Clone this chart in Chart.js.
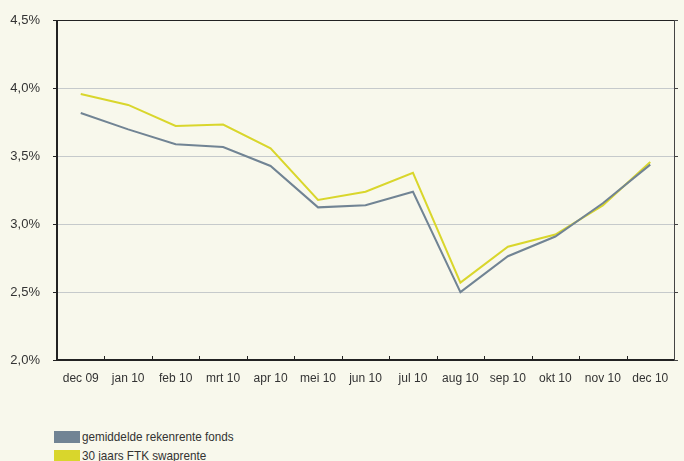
<!DOCTYPE html>
<html>
<head>
<meta charset="utf-8">
<script src="https://cdn.jsdelivr.net/npm/chart.js@4.4.0/dist/chart.umd.min.js"></script>
<style>
  html, body { margin: 0; padding: 0; background: #f8f8ec; }
  #wrap { position: relative; width: 684px; height: 400px; }
  #legend { position: absolute; left: 54px; top: 427px; font-family: "Liberation Sans Narrow", "Liberation Sans", sans-serif; font-size: 13px; color: #333; }
  #legend div { height: 19px; line-height: 15px; display: flex; align-items: center; }
  #legend span.box { display: inline-block; width: 26px; height: 12px; margin-right: 2px; }
  #legend span.txt { display: inline-block; transform: scaleX(0.9); transform-origin: left center; }
</style>
</head>
<body>
<div id="wrap"><canvas id="chart"></canvas></div>
<div id="legend"></div>
<script>
const months = ['dec 09', 'jan 10', 'feb 10', 'mrt 10', 'apr 10', 'mei 10', 'jun 10',
  'jul 10', 'aug 10', 'sep 10', 'okt 10', 'nov 10', 'dec 10'];
const rekenrente = [3.82, 3.70, 3.59, 3.57, 3.43, 3.125, 3.14, 3.24, 2.50, 2.765, 2.91, 3.155, 3.44];
const swaprente = [3.96, 3.88, 3.725, 3.735, 3.56, 3.18, 3.24, 3.38, 2.57, 2.835, 2.925, 3.14, 3.46];
const seriesNames = ['gemiddelde rekenrente fonds', '30 jaars FTK swaprente'];
const seriesColors = ['#718494', '#d9d62c'];

const fontName = '"Liberation Sans Narrow", "Liberation Sans", sans-serif';

// small inward ticks on the category axis, between the months
const innerTicks = {
  id: 'innerTicks',
  afterDraw(chart) {
    const x = chart.scales.x;
    const ctx = chart.ctx;
    ctx.save();
    ctx.strokeStyle = '#222';
    ctx.lineWidth = 1;
    const n = months.length;
    for (let i = 1; i < n; i++) {
      const px = Math.round(x.left + i * x.width / n) + 0.5;
      ctx.beginPath();
      ctx.moveTo(px, x.top);
      ctx.lineTo(px, x.top - 4);
      ctx.stroke();
    }
    ctx.restore();
  }
};

new Chart(document.getElementById('chart'), {
  type: 'line',
  data: {
    labels: months,
    datasets: [
      { label: seriesNames[0], data: rekenrente, borderColor: seriesColors[0], borderWidth: 2, pointRadius: 0, tension: 0 },
      { label: seriesNames[1], data: swaprente, borderColor: seriesColors[1], borderWidth: 2, pointRadius: 0, tension: 0 }
    ]
  },
  options: {
    responsive: true,
    maintainAspectRatio: false,
    animation: false,
    layout: { padding: { top: 18, right: 0, left: 0, bottom: 0 } },
    plugins: { legend: { display: false }, tooltip: { enabled: false } },
    scales: {
      x: {
        offset: true,
        grid: { display: false },
        border: { color: '#222', width: 2 },
        ticks: { color: '#333', font: { family: fontName, size: 12 }, padding: 3, maxRotation: 0, autoSkip: false },
        afterFit(s) { s.height = 40; }
      },
      y: {
        min: 2.0,
        max: 4.5,
        grid: {
          color: (c) => c.tick.value === 4.5 ? '#222' : (c.tick.value === 2.0 ? 'rgba(0,0,0,0)' : '#c6cacb'),
          tickColor: '#222',
          tickLength: 4
        },
        border: { color: '#222', width: 2 },
        ticks: {
          stepSize: 0.5,
          color: '#333',
          font: { family: fontName, size: 13 },
          padding: 13,
          callback: (v) => v.toFixed(1).replace('.', ',') + '%'
        },
        afterFit(s) { s.width = 57; }
      },
      y2: {
        position: 'right',
        min: 2.0,
        max: 4.5,
        grid: { drawOnChartArea: false, tickColor: '#444', tickLength: 4 },
        border: { color: '#444', width: 1 },
        ticks: { stepSize: 0.5, display: false },
        afterFit(s) { s.width = 10; }
      }
    }
  },
  plugins: [innerTicks]
});

const legend = document.getElementById('legend');
seriesNames.forEach((name, i) => {
  const row = document.createElement('div');
  const box = document.createElement('span');
  box.className = 'box';
  box.style.background = seriesColors[i];
  const txt = document.createElement('span');
  txt.className = 'txt';
  txt.textContent = name;
  row.appendChild(box);
  row.appendChild(txt);
  legend.appendChild(row);
});
</script>
</body>
</html>
